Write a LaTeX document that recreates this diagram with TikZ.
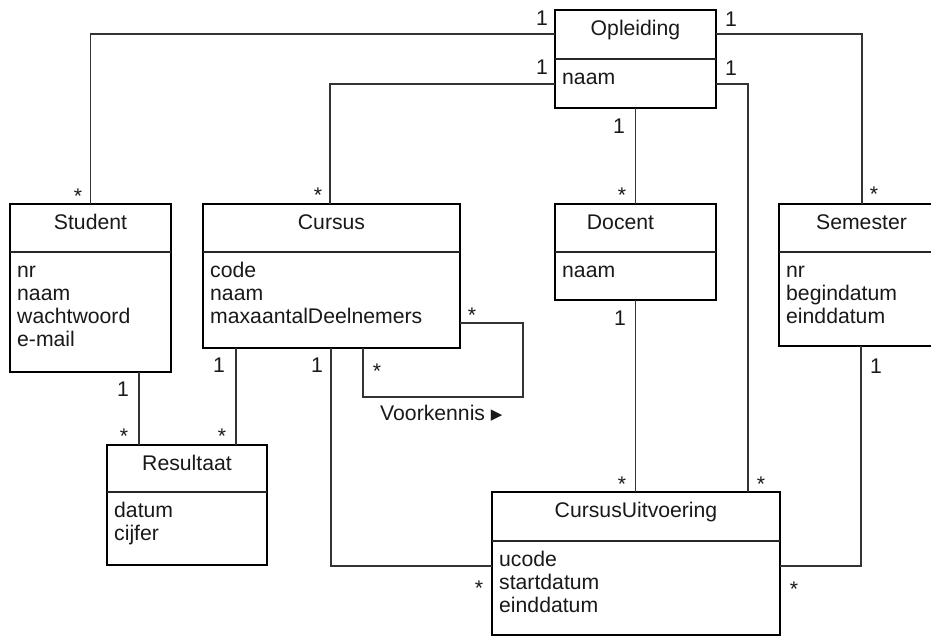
\documentclass[tikz,border=0pt]{standalone}
\usepackage{fontspec}
\setmainfont{Liberation Sans}
\newfontfamily\symfont{DejaVu Sans}
\usetikzlibrary{calc}

\newcommand\umlfont{\fontsize{21.2}{23.3}\selectfont}

\tikzset{
  classbox/.style={draw=black, line width=2pt, inner sep=0pt, outer sep=0pt, fill=white},
  divider/.style={draw=black!85, line width=1.2pt},
  assoc/.style={draw=black!80, line width=1.2pt},
  attr/.style={anchor=base west, inner sep=0pt, font=\umlfont, text=black!90},
  classtitle/.style={anchor=base, inner sep=0pt, font=\umlfont, text=black!90},
  mult/.style={anchor=base, inner sep=0pt, font=\umlfont, text=black!90},
}

% #1 name, #2 x, #3 y, #4 width, #5 height, #6 divider offset,
% #7 class name, #8 attributes, #9 horizontal shift of the class name
\newcommand\umlclass[9]{%
  \node[classbox, anchor=north west, minimum width=#4, minimum height=#5] (#1) at (#2,#3) {};
  \draw[divider] ([yshift=-#6]#1.north west) -- ([yshift=-#6]#1.north east);
  \node[classtitle] (#1-title) at ([xshift=#9, yshift=-25]#1.north) {#7};
  \foreach \ln [count=\k from 0] in {#8} {
    \node[attr] at ([xshift=7, yshift={-(#6+25+\k*23.3)}]#1.north west) {\ln};
  }
}

\begin{document}
\begin{tikzpicture}[x=1pt, y=-1pt]
\useasboundingbox (0,0) rectangle (931,637);

% classes
\umlclass{opl}{555}{10}{161}{98}{49}{Opleiding}{naam}{0}
\umlclass{stu}{10}{204}{161}{168}{48}{Student}{nr,naam,wachtwoord,e-mail}{0}
\umlclass{cur}{203}{204}{257}{144}{48}{Cursus}{code,naam,maxaantalDeelnemers}{0}
\umlclass{doc}{555}{204}{161}{96}{48}{Docent}{naam}{-15}
\umlclass{sem}{779}{204}{161}{142}{48}{Semester}{nr,begindatum,einddatum}{2}
\umlclass{res}{107}{445}{160}{120}{47}{Resultaat}{datum,cijfer}{0}
\umlclass{cu}{492}{492}{288}{143}{49}{CursusUitvoering}{ucode,startdatum,einddatum}{0}

% associations
\draw[assoc] ([yshift=-24]opl.north west) -| (stu.north);
\draw[assoc] ([yshift=-74]opl.north west) -| ([xshift=127]cur.north west);
\draw[assoc] (opl.south) -- (doc.north);
\draw[assoc] ([yshift=-24]opl.north east) -| ([xshift=83]sem.north west);
\draw[assoc] ([yshift=-74]opl.north east) -| ([xshift=256]cu.north west);
\draw[assoc] (doc.south) -- (doc.south |- cu.north);
\draw[assoc] ([xshift=129]stu.south west) -- ([xshift=129]stu.south west |- res.north);
\draw[assoc] ([xshift=33]cur.south west) -- ([xshift=33]cur.south west |- res.north);
\draw[assoc] ([xshift=128]cur.south west) |- ([yshift=-74]cu.north west);
\draw[assoc] ([xshift=82]sem.south west) |- ([yshift=-74]cu.north east);

% reflexive association on Cursus
\coordinate (loopcorner) at (523,397);
\draw[assoc] ([yshift=-119]cur.north east) -| (loopcorner) -| ([xshift=160]cur.south west);
\node[anchor=base west, inner sep=0pt, font=\umlfont, text=black!90] (voorkennis) at (380,420)
  {Voorkennis {\symfont\fontsize{15}{15}\selectfont\raisebox{1pt}{▶}}};

% multiplicities
\node[mult] at (542,25) {1};
\node[mult] at (542,74) {1};
\node[mult] at (731,26) {1};
\node[mult] at (731,75) {1};
\node[mult] at (619,133) {1};
\node[mult] at (123,396) {1};
\node[mult] at (219,372) {1};
\node[mult] at (317,372) {1};
\node[mult] at (620,325) {1};
\node[mult] at (876,373) {1};

\node[mult] at (78,203) {*};
\node[mult] at (318,202) {*};
\node[mult] at (622,202) {*};
\node[mult] at (874,201) {*};
\node[mult] at (124,443) {*};
\node[mult] at (222,443) {*};
\node[mult] at (472,322) {*};
\node[mult] at (377,378) {*};
\node[mult] at (622,491) {*};
\node[mult] at (761,491) {*};
\node[mult] at (479,595) {*};
\node[mult] at (794,596) {*};
\end{tikzpicture}
\end{document}
